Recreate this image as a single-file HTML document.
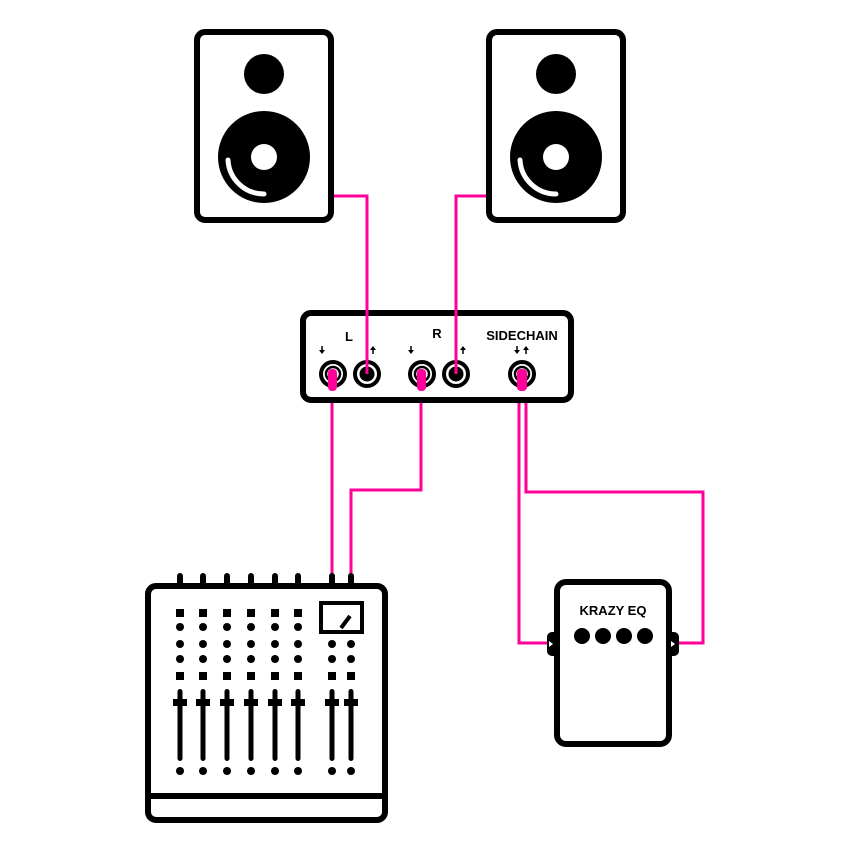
<!DOCTYPE html>
<html><head><meta charset="utf-8"><style>
html,body{margin:0;padding:0;background:#fff;}
svg{display:block;}
text{font-family:"Liberation Sans",sans-serif;font-weight:bold;fill:#000;}
</style></head><body>
<svg width="850" height="850" viewBox="0 0 850 850" xmlns="http://www.w3.org/2000/svg">
<defs>
  <g id="dn"><line x1="0" y1="-5" x2="0" y2="0" stroke="#000" stroke-width="1.5"/><polygon points="-3,-1 3,-1 0,3" fill="#000"/></g>
  <g id="up"><line x1="0" y1="5" x2="0" y2="0" stroke="#000" stroke-width="1.5"/><polygon points="-3,1 3,1 0,-3" fill="#000"/></g>
</defs>
<g fill="none" stroke="#ff0099" stroke-width="3">
  <polyline points="332,196 367,196 367,372"/>
  <polyline points="488,196 456,196 456,372"/>
  <line x1="332" y1="380" x2="332" y2="574"/>
  <polyline points="421,380 421,490 351,490 351,574"/>
  <polyline points="519,380 519,643 553,643"/>
  <polyline points="526,380 526,492 703,492 703,643 673,643"/>
</g>
<g>
  <rect x="197" y="32" width="134" height="188" rx="8" fill="#fff" stroke="#000" stroke-width="6"/>
  <circle cx="264" cy="74" r="20"/>
  <circle cx="264" cy="157" r="46"/>
  <circle cx="264" cy="157" r="13" fill="#fff"/>
  <path d="M228,160 A36,36 0 0 0 264,194" fill="none" stroke="#fff" stroke-width="5" stroke-linecap="round"/>
  <rect x="489" y="32" width="134" height="188" rx="8" fill="#fff" stroke="#000" stroke-width="6"/>
  <circle cx="556" cy="74" r="20"/>
  <circle cx="556" cy="157" r="46"/>
  <circle cx="556" cy="157" r="13" fill="#fff"/>
  <path d="M520,160 A36,36 0 0 0 556,194" fill="none" stroke="#fff" stroke-width="5" stroke-linecap="round"/>
</g>
<rect x="303" y="313" width="268" height="87" rx="8" fill="#fff" stroke="#000" stroke-width="6"/>
<text x="349" y="341" font-size="13" text-anchor="middle">L</text>
<text x="437" y="338" font-size="13" text-anchor="middle">R</text>
<text x="522" y="340" font-size="13" text-anchor="middle">SIDECHAIN</text>
<use href="#dn" x="322" y="351"/><use href="#up" x="373" y="349"/>
<use href="#dn" x="411" y="351"/><use href="#up" x="463" y="349"/>
<use href="#dn" x="517" y="351"/><use href="#up" x="526" y="349"/>
<g>
  <circle cx="333" cy="374" r="12" fill="#fff" stroke="#000" stroke-width="4"/>
  <circle cx="333" cy="374" r="7" fill="#fff" stroke="#000" stroke-width="2.5"/>
  <circle cx="422" cy="374" r="12" fill="#fff" stroke="#000" stroke-width="4"/>
  <circle cx="422" cy="374" r="7" fill="#fff" stroke="#000" stroke-width="2.5"/>
  <circle cx="522" cy="374" r="12" fill="#fff" stroke="#000" stroke-width="4"/>
  <circle cx="522" cy="374" r="7" fill="#fff" stroke="#000" stroke-width="2.5"/>
  <circle cx="367" cy="374" r="12" fill="#fff" stroke="#000" stroke-width="4"/>
  <circle cx="367" cy="374" r="7.5"/>
  <circle cx="456" cy="374" r="12" fill="#fff" stroke="#000" stroke-width="4"/>
  <circle cx="456" cy="374" r="7.5"/>
</g>
<g fill="#ff0099">
  <rect x="328" y="369" width="9" height="22" rx="4"/>
  <rect x="417" y="369" width="9" height="22" rx="4"/>
  <rect x="517" y="369" width="10" height="22" rx="4"/>
</g>
<g stroke="#ff0099" stroke-width="3">
  <line x1="367" y1="196" x2="367" y2="374"/>
  <line x1="456" y1="196" x2="456" y2="374"/>
</g>
<g stroke="#000" stroke-width="6" stroke-linecap="round">
  <line x1="180" y1="576" x2="180" y2="586"/><line x1="203" y1="576" x2="203" y2="586"/>
  <line x1="227" y1="576" x2="227" y2="586"/><line x1="251" y1="576" x2="251" y2="586"/>
  <line x1="275" y1="576" x2="275" y2="586"/><line x1="298" y1="576" x2="298" y2="586"/>
  <line x1="332" y1="576" x2="332" y2="586"/><line x1="351" y1="576" x2="351" y2="586"/>
</g>
<rect x="148" y="586" width="237" height="234" rx="8" fill="#fff" stroke="#000" stroke-width="6"/>
<line x1="148" y1="796" x2="385" y2="796" stroke="#000" stroke-width="6"/>
<rect x="321" y="603" width="41" height="29" fill="#fff" stroke="#000" stroke-width="4"/>
<line x1="341" y1="628" x2="350" y2="616" stroke="#000" stroke-width="4"/>
<g fill="#000">
  <g id="strip">
    <rect x="176" y="609" width="8" height="8"/>
    <circle cx="180" cy="627" r="4"/><circle cx="180" cy="644" r="4"/><circle cx="180" cy="659" r="4"/>
    <rect x="176" y="672" width="8" height="8"/>
    <rect x="177.5" y="689" width="5" height="72" rx="2.5"/>
    <rect x="173" y="699" width="14" height="7"/>
    <circle cx="180" cy="771" r="4"/>
  </g>
  <use href="#strip" x="23"/><use href="#strip" x="47"/><use href="#strip" x="71"/>
  <use href="#strip" x="95"/><use href="#strip" x="118"/>
  <g id="mstrip">
    <circle cx="332" cy="644" r="4"/><circle cx="332" cy="659" r="4"/>
    <rect x="328" y="672" width="8" height="8"/>
    <rect x="329.5" y="689" width="5" height="72" rx="2.5"/>
    <rect x="325" y="699" width="14" height="7"/>
    <circle cx="332" cy="771" r="4"/>
  </g>
  <use href="#mstrip" x="19"/>
</g>
<rect x="547" y="632" width="14" height="24" rx="5"/>
<rect x="665" y="632" width="14" height="24" rx="5"/>
<rect x="557" y="582" width="112" height="162" rx="9" fill="#fff" stroke="#000" stroke-width="6"/>
<text x="613" y="615" font-size="13" text-anchor="middle">KRAZY EQ</text>
<circle cx="582" cy="636" r="8"/><circle cx="603" cy="636" r="8"/>
<circle cx="624" cy="636" r="8"/><circle cx="645" cy="636" r="8"/>
<polygon points="549,641 553,644 549,647" fill="#fff"/>
<polygon points="671,641 675,644 671,647" fill="#fff"/>
</svg>
</body></html>
